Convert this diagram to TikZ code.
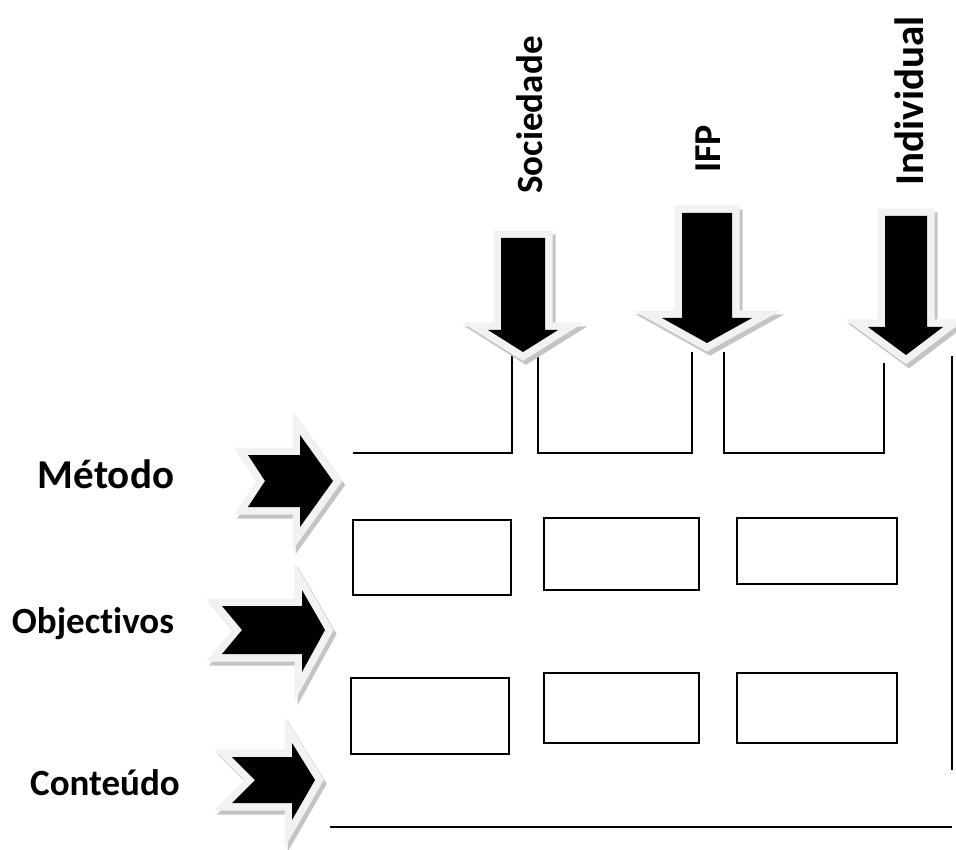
\documentclass[tikz,border=0pt]{standalone}
\usepackage{fontspec}
\setmainfont{Carlito}[Ligatures=NoCommon]
\definecolor{arrowlight}{RGB}{242,242,242}
\definecolor{arrowshadow}{RGB}{196,196,196}
\newcommand\myblockarrow[1]{%
  \draw[arrshadow, shift={(3,4)}] #1;
  \draw[arroutline] #1;
  \fill[black] #1;
}
\begin{document}
\begin{tikzpicture}[x=1pt,y=-1pt,
  arroutline/.style={draw=arrowlight, fill=arrowlight, line width=15pt, line join=miter, miter limit=20},
  arrshadow/.style={draw=arrowshadow, fill=arrowshadow, line width=15pt, line join=miter, miter limit=20},
  ln/.style={draw=black, line width=2pt},
  box/.style={draw=black, line width=2.5pt, fill=white, inner sep=0pt},
  lbl/.style={inner sep=0pt, text=black}]
\useasboundingbox (0,0) rectangle (956,850);

% frame lines
\draw[ln] (353,453) -- (512,453) -- (512,352);
\draw[ln] (538,352) -- (538,453) -- (692,453) -- (692,352);
\draw[ln] (724,352) -- (724,453) -- (884,453) -- (884,363);
\draw[ln] (952,356) -- (952,770);
\draw[ln] (330,827) -- (952,827);

% down arrows
\myblockarrow{(501,238) -- (545,238) -- (545,330) -- (558,330) -- (523,352) -- (488,330) -- (501,330) -- cycle}
\myblockarrow{(682,213) -- (732,213) -- (732,318) -- (752,318) -- (707,343) -- (662,318) -- (682,318) -- cycle}
\myblockarrow{(885,216) -- (927,216) -- (927,327) -- (943,327) -- (906,355) -- (868,327) -- (885,327) -- cycle}

% right arrows
\myblockarrow{(248,455) -- (300,455) -- (300,435) -- (333,481) -- (300,527) -- (300,507) -- (248,507) -- (265,481) -- cycle}
\myblockarrow{(222,606) -- (302,606) -- (302,590) -- (325,630) -- (302,672) -- (302,654) -- (222,654) -- (242,630) -- cycle}
\myblockarrow{(232,757) -- (292,757) -- (292,743) -- (315,780) -- (292,820) -- (292,803) -- (232,803) -- (255,780) -- cycle}

% boxes
\node[box, minimum width=158pt, minimum height=75pt] (b1) at (432,557.5) {};
\node[box, minimum width=155pt, minimum height=72pt] (b2) at (621.5,554) {};
\node[box, minimum width=160pt, minimum height=66pt] (b3) at (817,551) {};
\node[box, minimum width=158pt, minimum height=76pt] (b4) at (430,716) {};
\node[box, minimum width=155pt, minimum height=70pt] (b5) at (621.5,708) {};
\node[box, minimum width=160pt, minimum height=70pt] (b6) at (817,708) {};

% labels
\node[lbl, anchor=base, font=\fontsize{41}{49}\selectfont\bfseries] (metodo) at (106,488) {Método};
\node[lbl, anchor=base, font=\fontsize{37}{44}\selectfont\bfseries] (objectivos) at (93,633) {Objectivos};
\node[lbl, anchor=base, font=\fontsize{37}{44}\selectfont\bfseries] (conteudo) at (105,795) {Conteúdo};
\node[lbl, anchor=base, rotate=90, font=\fontsize{37}{44}\selectfont\bfseries] (sociedade) at (542,115) {Sociedade};
\node[lbl, anchor=base, rotate=90, font=\fontsize{38}{45}\selectfont\bfseries] (ifp) at (720,149) {IFP};
\node[lbl, anchor=base, rotate=90, font=\fontsize{41}{49}\selectfont\bfseries] (individual) at (923,101) {Individual};
\end{tikzpicture}
\end{document}
